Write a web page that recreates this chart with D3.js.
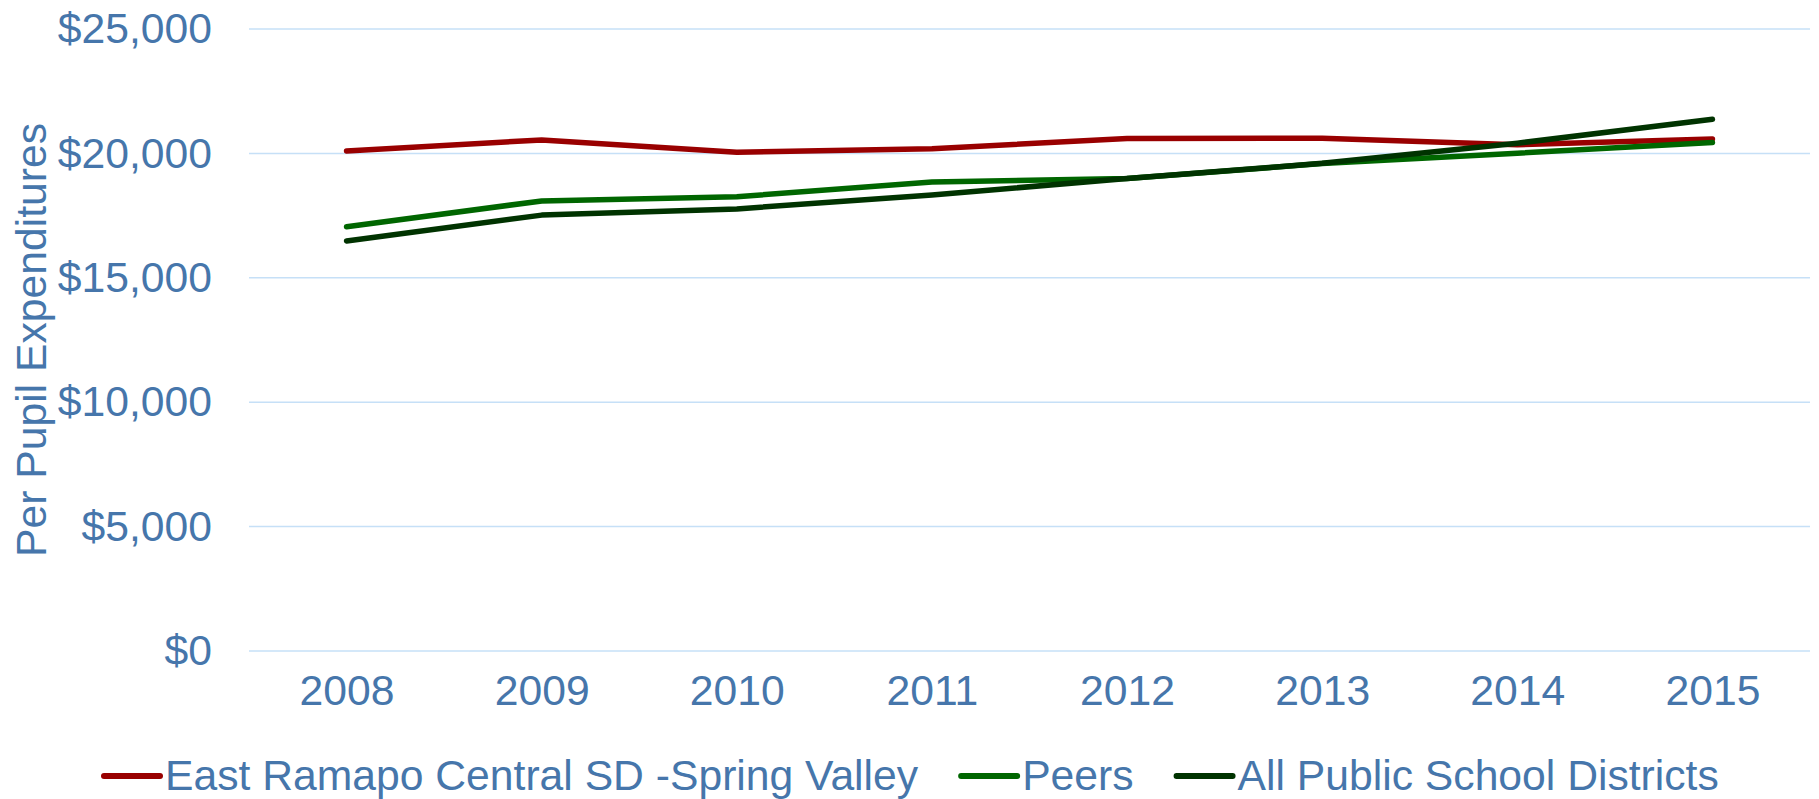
<!DOCTYPE html>
<html>
<head>
<meta charset="utf-8">
<script src="https://cdn.jsdelivr.net/npm/d3@7"></script>
<style>
  body { margin: 0; background: #fff; }
  svg { display: block; font-family: "Liberation Sans", Arial, sans-serif; }
</style>
</head>
<body>
<svg width="1819" height="799"></svg>
<script>
var years = ["2008", "2009", "2010", "2011", "2012", "2013", "2014", "2015"];
var eastRamapo = [20100, 20540, 20050, 20190, 20600, 20610, 20350, 20580];
var peers = [17050, 18090, 18260, 18850, 18990, 19590, 20010, 20440];
var allDistricts = [16480, 17520, 17770, 18330, 18990, 19600, 20410, 21370];
var yTicks = [0, 5000, 10000, 15000, 20000, 25000];

var series = [
  { name: "East Ramapo Central SD -Spring Valley", values: eastRamapo, color: "#990000" },
  { name: "Peers", values: peers, color: "#006600" },
  { name: "All Public School Districts", values: allDistricts, color: "#003300" }
];

var textColor = "#4676ab";
var fontSize = "42.67px";   // 32pt
var svg = d3.select("svg");

// plot area
var x = d3.scalePoint()
    .domain(years)
    .range([249, 1810])
    .padding(0.5);

var y = d3.scaleLinear()
    .domain([0, 25000])
    .range([651, 29]);

// gridlines
svg.append("g")
  .selectAll("line")
  .data(yTicks)
  .enter()
  .append("line")
    .attr("x1", 249)
    .attr("x2", 1810)
    .attr("y1", d => y(d))
    .attr("y2", d => y(d))
    .attr("stroke", "#c6e0f7")
    .attr("stroke-width", 1.5);

// y axis labels
var yAxis = d3.axisLeft(y)
    .tickValues(yTicks)
    .tickSize(0)
    .tickPadding(37)
    .tickFormat(d => "$" + d3.format(",")(d));

svg.append("g")
    .attr("transform", "translate(249,0)")
    .call(yAxis)
    .call(g => g.select(".domain").remove())
    .selectAll("text")
      .attr("fill", textColor)
      .style("font-size", fontSize)
      .style("font-family", "'Liberation Sans', Arial, sans-serif");

// x axis labels
var xAxis = d3.axisBottom(x).tickSize(0).tickPadding(24);
svg.append("g")
    .attr("transform", "translate(0,651)")
    .call(xAxis)
    .call(g => g.select(".domain").remove())
    .selectAll("text")
      .attr("fill", textColor)
      .style("font-size", fontSize)
      .style("font-family", "'Liberation Sans', Arial, sans-serif");

// y axis title
svg.append("text")
    .attr("transform", "translate(46,340) rotate(-90)")
    .attr("text-anchor", "middle")
    .attr("fill", textColor)
    .style("font-size", fontSize)
    .text("Per Pupil Expenditures");

// lines
var line = d3.line()
    .x((d, i) => x(years[i]))
    .y(d => y(d));

svg.append("g")
  .selectAll("path")
  .data(series)
  .enter()
  .append("path")
    .attr("d", d => line(d.values))
    .attr("fill", "none")
    .attr("stroke", d => d.color)
    .attr("stroke-width", 5.5)
    .attr("stroke-linecap", "round")
    .attr("stroke-linejoin", "round");

// legend, laid out one item after the other
var legend = svg.append("g")
  .selectAll("g")
  .data(series)
  .enter()
  .append("g");

legend.append("line")
    .attr("x1", 0)
    .attr("x2", 56)
    .attr("y1", 776)
    .attr("y2", 776)
    .attr("stroke", d => d.color)
    .attr("stroke-width", 6)
    .attr("stroke-linecap", "round");

legend.append("text")
    .attr("x", 61)
    .attr("y", 790)
    .attr("fill", textColor)
    .style("font-size", fontSize)
    .text(d => d.name);

var lx = 104;
legend.each(function() {
  var g = d3.select(this);
  g.attr("transform", "translate(" + lx + ",0)");
  lx += 61 + g.select("text").node().getComputedTextLength() + 43;
});
</script>
</body>
</html>
